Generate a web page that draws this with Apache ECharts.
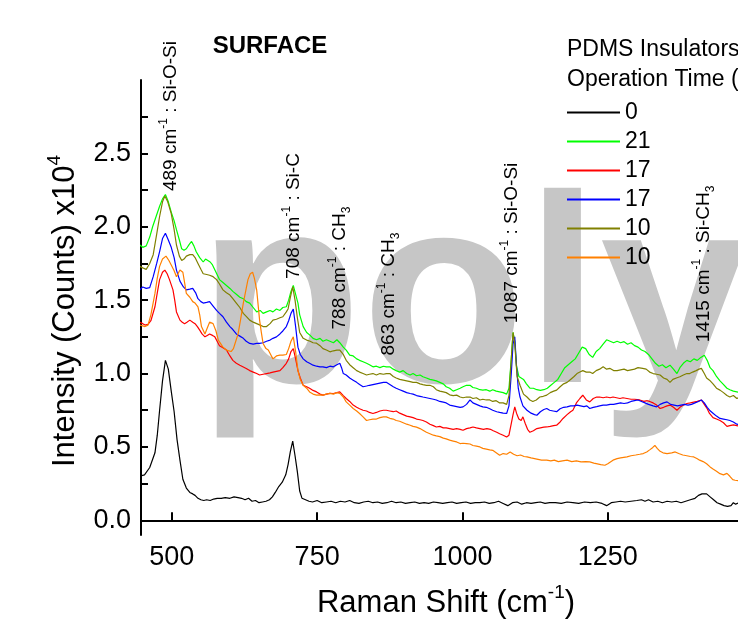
<!DOCTYPE html>
<html>
<head>
<meta charset="utf-8">
<script src="https://cdn.jsdelivr.net/npm/echarts@6/dist/echarts.min.js"></script>
<style>
  html, body { margin: 0; padding: 0; background: #fff; }
  #chart { width: 738px; height: 622px; }
</style>
</head>
<body>
<div id="chart"></div>
<script>
const FONT = '"Liberation Sans", Arial, sans-serif';

// legend labels (operation time) and colours
const seriesLabels = ['0', '21', '17', '17', '10', '10'];
const seriesColors = ['#000000', '#00ff00', '#ff0000', '#0000ff', '#808000', '#ff8000'];

// tick values
const xTicks = [500, 750, 1000, 1250];
const yLabels = [0, 0.5, 1.0, 1.5, 2.0, 2.5];
const yTicks = [0, 0.25, 0.5, 0.75, 1.0, 1.25, 1.5, 1.75, 2.0, 2.25, 2.5, 2.75];

// spectra: [Raman shift, intensity x10^4]
const spec0 = [[445,0.30],[453,0.31],[462,0.36],[471,0.46],[475,0.58],[479,0.75],[484,0.95],[489,1.09],[494,1.03],[499,0.88],[504,0.74],[509,0.55],[514,0.41],[519,0.28],[525,0.22],[531,0.19],[536,0.18],[540,0.17],[545,0.15],[550,0.14],[555,0.135],[560,0.14],[566,0.135],[572,0.145],[578,0.15],[585,0.15],[592,0.155],[600,0.15],[607,0.16],[614,0.155],[620,0.15],[626,0.14],[632,0.15],[638,0.13],[644,0.135],[650,0.12],[656,0.125],[662,0.13],[668,0.14],[673,0.16],[678,0.19],[684,0.23],[690,0.26],[696,0.31],[700,0.38],[704,0.47],[708,0.54],[712,0.44],[716,0.33],[720,0.2],[724,0.15],[730,0.14],[736,0.13],[742,0.125],[750,0.135],[758,0.12],[766,0.125],[774,0.13],[782,0.12],[790,0.13],[798,0.125],[806,0.135],[814,0.12],[822,0.115],[830,0.125],[838,0.13],[846,0.12],[854,0.125],[862,0.115],[870,0.12],[878,0.13],[886,0.12],[894,0.125],[902,0.115],[910,0.12],[918,0.125],[926,0.115],[934,0.12],[942,0.115],[950,0.125],[958,0.12],[966,0.115],[974,0.12],[982,0.125],[990,0.115],[998,0.12],[1006,0.125],[1014,0.115],[1022,0.12],[1030,0.12],[1038,0.125],[1046,0.115],[1054,0.12],[1062,0.13],[1070,0.115],[1078,0.1],[1086,0.12],[1094,0.125],[1102,0.11],[1110,0.12],[1118,0.115],[1126,0.12],[1134,0.125],[1142,0.115],[1150,0.12],[1160,0.12],[1170,0.115],[1180,0.125],[1190,0.12],[1200,0.115],[1210,0.125],[1220,0.12],[1230,0.125],[1240,0.115],[1248,0.10],[1256,0.12],[1264,0.125],[1272,0.13],[1280,0.125],[1290,0.13],[1300,0.135],[1308,0.14],[1314,0.13],[1320,0.14],[1328,0.125],[1336,0.13],[1344,0.12],[1352,0.13],[1360,0.125],[1368,0.13],[1376,0.12],[1384,0.13],[1392,0.14],[1400,0.15],[1406,0.17],[1412,0.18],[1420,0.18],[1426,0.16],[1432,0.14],[1438,0.12],[1444,0.11],[1450,0.10],[1456,0.095],[1462,0.10],[1466,0.12],[1470,0.11],[1476,0.12]];

const spec21 = [[445,1.876],[450,1.86],[456,1.87],[462,1.93],[467,2.0],[473,2.07],[479,2.14],[484,2.19],[489,2.22],[494,2.17],[499,2.10],[504,2.04],[508,1.98],[513,1.91],[517,1.85],[521,1.84],[525,1.85],[530,1.88],[534,1.90],[538,1.87],[542,1.83],[548,1.79],[554,1.76],[558,1.78],[562,1.77],[566,1.76],[570,1.74],[576,1.69],[582,1.64],[588,1.62],[594,1.60],[600,1.58],[605,1.56],[611,1.54],[617,1.52],[623,1.51],[628,1.49],[634,1.48],[640,1.45],[646,1.42],[652,1.43],[657,1.41],[663,1.42],[669,1.43],[674,1.42],[680,1.44],[686,1.43],[691,1.45],[697,1.455],[701,1.50],[705,1.56],[709,1.60],[713,1.54],[717,1.48],[720,1.40],[726,1.32],[732,1.28],[738,1.26],[743,1.24],[749,1.23],[755,1.24],[760,1.22],[766,1.23],[772,1.22],[778,1.21],[784,1.23],[789,1.21],[795,1.18],[800,1.16],[806,1.125],[812,1.12],[818,1.10],[823,1.09],[829,1.08],[835,1.07],[840,1.06],[846,1.046],[852,1.05],[858,1.04],[864,1.05],[869,1.045],[875,1.046],[881,1.03],[886,1.02],[892,1.01],[898,1.02],[904,1.0],[910,0.99],[915,1.0],[921,0.985],[927,0.99],[932,0.978],[938,0.97],[944,0.96],[950,0.955],[955,0.95],[961,0.94],[967,0.93],[972,0.91],[978,0.90],[984,0.88],[990,0.89],[996,0.90],[1001,0.91],[1007,0.92],[1013,0.92],[1018,0.905],[1024,0.90],[1030,0.89],[1035,0.887],[1041,0.89],[1047,0.88],[1052,0.89],[1058,0.88],[1064,0.875],[1070,0.87],[1076,0.86],[1080,0.90],[1084,1.10],[1087,1.28],[1090,1.22],[1093,1.05],[1097,0.98],[1101,0.97],[1105,0.96],[1110,0.93],[1116,0.90],[1122,0.90],[1128,0.89],[1134,0.885],[1140,0.89],[1146,0.90],[1152,0.92],[1158,0.94],[1164,0.96],[1170,1.0],[1176,1.04],[1182,1.06],[1188,1.08],[1194,1.10],[1200,1.14],[1206,1.18],[1212,1.17],[1218,1.13],[1224,1.11],[1230,1.15],[1236,1.17],[1242,1.20],[1248,1.23],[1254,1.22],[1260,1.21],[1266,1.22],[1272,1.21],[1278,1.217],[1284,1.20],[1290,1.21],[1296,1.19],[1302,1.18],[1308,1.16],[1314,1.15],[1320,1.13],[1326,1.10],[1332,1.07],[1338,1.05],[1344,1.06],[1350,1.04],[1357,1.057],[1363,1.03],[1369,1.0],[1374,1.04],[1380,1.07],[1386,1.09],[1392,1.08],[1398,1.10],[1404,1.09],[1410,1.11],[1416,1.125],[1421,1.09],[1426,1.04],[1431,1.02],[1437,0.98],[1443,0.95],[1448,0.93],[1455,0.90],[1460,0.89],[1466,0.88],[1472,0.875],[1478,0.87]];

const spec17a = [[445,1.35],[450,1.34],[454,1.33],[459,1.335],[464,1.36],[471,1.455],[475,1.55],[479,1.64],[484,1.69],[488,1.705],[492,1.68],[496,1.64],[502,1.57],[505,1.50],[508,1.42],[514,1.364],[518,1.35],[522,1.34],[526,1.35],[531,1.364],[536,1.35],[540,1.34],[544,1.32],[548,1.296],[552,1.27],[557,1.25],[561,1.26],[565,1.27],[570,1.26],[574,1.25],[578,1.22],[582,1.19],[588,1.175],[594,1.16],[600,1.12],[605,1.09],[611,1.07],[617,1.057],[623,1.045],[628,1.035],[634,1.02],[640,1.01],[646,1.0],[651,0.99],[657,0.995],[663,1.0],[669,1.005],[674,1.01],[680,1.015],[686,1.02],[691,1.04],[697,1.07],[701,1.10],[705,1.15],[709,1.17],[713,1.10],[717,1.02],[721,0.97],[726,0.92],[732,0.91],[737,0.90],[743,0.885],[749,0.875],[755,0.86],[760,0.853],[766,0.86],[772,0.865],[778,0.864],[784,0.87],[789,0.875],[795,0.85],[800,0.83],[806,0.81],[812,0.785],[818,0.77],[823,0.76],[829,0.75],[835,0.745],[840,0.735],[846,0.728],[852,0.735],[858,0.745],[864,0.75],[869,0.75],[875,0.745],[881,0.74],[886,0.745],[892,0.73],[898,0.72],[904,0.71],[910,0.705],[915,0.70],[921,0.69],[927,0.685],[932,0.68],[938,0.67],[944,0.655],[950,0.645],[955,0.636],[961,0.64],[967,0.63],[972,0.63],[978,0.625],[984,0.62],[990,0.625],[996,0.62],[1001,0.614],[1007,0.625],[1013,0.63],[1018,0.636],[1024,0.63],[1030,0.625],[1036,0.62],[1042,0.625],[1048,0.62],[1053,0.61],[1059,0.60],[1064,0.59],[1070,0.58],[1076,0.568],[1080,0.58],[1083,0.64],[1087,0.72],[1090,0.773],[1093,0.73],[1097,0.69],[1101,0.68],[1104,0.705],[1108,0.66],[1112,0.62],[1116,0.60],[1122,0.61],[1128,0.625],[1134,0.63],[1140,0.635],[1145,0.636],[1151,0.64],[1157,0.645],[1162,0.648],[1168,0.67],[1173,0.694],[1180,0.72],[1186,0.74],[1190,0.75],[1196,0.80],[1202,0.83],[1207,0.853],[1213,0.82],[1219,0.807],[1225,0.83],[1231,0.84],[1236,0.84],[1242,0.835],[1248,0.84],[1254,0.835],[1259,0.84],[1265,0.835],[1271,0.83],[1276,0.835],[1283,0.83],[1290,0.825],[1296,0.825],[1305,0.82],[1312,0.81],[1318,0.815],[1322,0.81],[1328,0.80],[1334,0.785],[1340,0.762],[1346,0.77],[1352,0.78],[1357,0.785],[1363,0.77],[1369,0.75],[1374,0.77],[1380,0.785],[1386,0.796],[1392,0.80],[1398,0.805],[1404,0.81],[1411,0.82],[1416,0.79],[1421,0.76],[1425,0.728],[1431,0.70],[1437,0.69],[1443,0.68],[1449,0.665],[1455,0.64],[1460,0.645],[1466,0.65],[1472,0.645],[1478,0.64]];

const spec17b = [[445,1.57],[450,1.59],[456,1.58],[462,1.585],[468,1.66],[474,1.75],[479,1.83],[484,1.92],[489,1.956],[494,1.91],[499,1.86],[504,1.79],[508,1.705],[514,1.63],[520,1.59],[525,1.57],[531,1.575],[536,1.58],[541,1.55],[545,1.51],[550,1.49],[554,1.48],[560,1.485],[565,1.49],[571,1.46],[577,1.43],[582,1.41],[588,1.387],[594,1.35],[600,1.32],[605,1.30],[611,1.27],[617,1.255],[623,1.24],[628,1.22],[634,1.205],[640,1.20],[646,1.205],[651,1.205],[657,1.21],[663,1.22],[669,1.228],[674,1.24],[680,1.25],[686,1.27],[691,1.29],[697,1.32],[701,1.36],[705,1.41],[709,1.44],[713,1.32],[717,1.18],[721,1.13],[726,1.10],[732,1.08],[737,1.07],[743,1.057],[749,1.05],[755,1.045],[760,1.046],[766,1.04],[772,1.05],[778,1.046],[784,1.06],[789,1.07],[792,1.04],[795,1.0],[800,0.99],[806,0.97],[812,0.955],[818,0.94],[823,0.925],[829,0.91],[835,0.915],[840,0.92],[846,0.925],[852,0.93],[858,0.935],[864,0.94],[869,0.94],[875,0.925],[881,0.91],[886,0.90],[892,0.89],[898,0.88],[904,0.87],[910,0.864],[915,0.86],[921,0.85],[927,0.845],[932,0.84],[938,0.835],[944,0.83],[950,0.825],[955,0.82],[961,0.81],[967,0.805],[972,0.80],[978,0.785],[984,0.78],[990,0.775],[996,0.77],[1001,0.773],[1007,0.79],[1013,0.82],[1018,0.80],[1024,0.79],[1030,0.78],[1035,0.773],[1041,0.77],[1047,0.76],[1052,0.75],[1059,0.74],[1064,0.735],[1070,0.73],[1076,0.728],[1080,0.78],[1084,1.0],[1087,1.20],[1090,1.25],[1093,1.05],[1096,0.90],[1099,0.84],[1104,0.78],[1111,0.75],[1118,0.73],[1124,0.72],[1128,0.716],[1134,0.74],[1140,0.755],[1145,0.762],[1150,0.75],[1156,0.745],[1162,0.74],[1168,0.76],[1174,0.77],[1180,0.773],[1186,0.78],[1192,0.78],[1197,0.785],[1203,0.78],[1209,0.775],[1214,0.78],[1219,0.762],[1225,0.77],[1231,0.775],[1236,0.78],[1242,0.785],[1248,0.785],[1254,0.79],[1260,0.79],[1266,0.795],[1272,0.80],[1278,0.796],[1284,0.80],[1290,0.81],[1296,0.815],[1302,0.82],[1308,0.81],[1314,0.80],[1320,0.79],[1328,0.78],[1334,0.773],[1340,0.79],[1346,0.80],[1352,0.807],[1358,0.79],[1364,0.785],[1370,0.78],[1376,0.785],[1382,0.79],[1388,0.785],[1394,0.79],[1400,0.80],[1406,0.81],[1411,0.82],[1416,0.80],[1421,0.77],[1425,0.75],[1431,0.73],[1437,0.71],[1443,0.694],[1449,0.69],[1455,0.685],[1460,0.68],[1466,0.67],[1472,0.655],[1478,0.65]];

const spec10a = [[445,1.73],[450,1.72],[456,1.71],[462,1.75],[468,1.81],[474,1.95],[479,2.07],[484,2.17],[488,2.21],[493,2.17],[499,2.09],[504,1.98],[508,1.876],[513,1.80],[517,1.77],[521,1.78],[525,1.80],[531,1.81],[536,1.81],[540,1.79],[545,1.75],[550,1.71],[554,1.68],[560,1.675],[565,1.67],[571,1.66],[577,1.64],[582,1.61],[588,1.57],[594,1.55],[600,1.535],[605,1.51],[611,1.48],[617,1.45],[623,1.41],[628,1.39],[634,1.364],[640,1.35],[646,1.34],[652,1.33],[657,1.32],[663,1.32],[669,1.34],[674,1.364],[680,1.37],[686,1.38],[691,1.387],[697,1.42],[700,1.44],[704,1.52],[708,1.59],[712,1.50],[716,1.38],[720,1.28],[726,1.24],[732,1.228],[738,1.22],[743,1.21],[749,1.207],[755,1.19],[760,1.17],[766,1.16],[772,1.148],[778,1.155],[784,1.16],[789,1.16],[795,1.13],[800,1.09],[806,1.06],[812,1.04],[818,1.02],[823,1.01],[829,1.0],[835,0.99],[840,0.995],[846,1.0],[852,0.99],[858,1.0],[864,0.995],[869,1.0],[875,1.0],[881,0.98],[886,0.97],[892,0.96],[898,0.955],[904,0.95],[910,0.945],[915,0.94],[921,0.94],[927,0.93],[932,0.925],[938,0.92],[944,0.92],[950,0.91],[955,0.89],[961,0.88],[967,0.875],[972,0.87],[978,0.855],[984,0.85],[990,0.853],[996,0.84],[1001,0.835],[1007,0.84],[1013,0.84],[1018,0.83],[1024,0.835],[1030,0.82],[1035,0.825],[1041,0.82],[1047,0.82],[1052,0.81],[1058,0.815],[1064,0.80],[1070,0.80],[1076,0.79],[1080,0.85],[1084,1.10],[1087,1.28],[1090,1.20],[1094,0.98],[1099,0.92],[1105,0.86],[1111,0.84],[1116,0.82],[1121,0.81],[1127,0.82],[1133,0.84],[1139,0.845],[1145,0.853],[1151,0.87],[1157,0.88],[1162,0.887],[1168,0.91],[1174,0.93],[1180,0.94],[1186,0.96],[1192,0.98],[1197,1.0],[1202,1.01],[1207,1.02],[1213,1.01],[1219,1.01],[1224,1.0],[1230,1.02],[1236,1.03],[1242,1.046],[1248,1.03],[1254,1.035],[1260,1.02],[1266,1.02],[1272,1.025],[1278,1.03],[1284,1.02],[1290,1.025],[1296,1.03],[1302,1.04],[1310,1.035],[1316,1.03],[1322,1.01],[1328,1.0],[1334,0.995],[1340,0.99],[1346,0.97],[1352,0.96],[1357,0.94],[1362,0.96],[1368,0.97],[1374,0.978],[1380,0.99],[1386,1.0],[1391,1.0],[1396,1.01],[1402,1.02],[1407,1.03],[1411,1.035],[1416,1.0],[1420,0.97],[1425,0.955],[1431,0.93],[1437,0.90],[1443,0.887],[1449,0.87],[1455,0.85],[1460,0.84],[1466,0.85],[1472,0.83],[1478,0.84]];

const spec10b = [[445,1.33],[450,1.325],[454,1.32],[459,1.33],[464,1.40],[471,1.546],[475,1.65],[479,1.73],[484,1.78],[490,1.80],[495,1.77],[499,1.74],[504,1.70],[508,1.66],[514,1.705],[519,1.69],[522,1.62],[525,1.546],[531,1.52],[536,1.49],[540,1.48],[545,1.455],[548,1.40],[551,1.32],[557,1.27],[561,1.31],[565,1.35],[571,1.34],[576,1.29],[580,1.228],[588,1.18],[594,1.16],[597,1.148],[602,1.15],[606,1.17],[610,1.22],[614,1.27],[618,1.36],[623,1.48],[628,1.58],[631,1.64],[635,1.68],[639,1.69],[642,1.65],[646,1.57],[651,1.364],[654,1.28],[657,1.205],[662,1.17],[666,1.16],[670,1.13],[674,1.10],[680,1.12],[686,1.125],[691,1.125],[697,1.13],[701,1.17],[705,1.22],[709,1.25],[713,1.15],[717,1.02],[721,0.96],[726,0.92],[732,0.90],[737,0.875],[743,0.86],[749,0.853],[755,0.855],[760,0.853],[766,0.86],[772,0.865],[778,0.86],[784,0.87],[789,0.865],[795,0.84],[800,0.807],[806,0.785],[812,0.762],[818,0.745],[823,0.728],[829,0.705],[835,0.68],[840,0.685],[846,0.69],[852,0.69],[858,0.70],[864,0.705],[869,0.705],[875,0.695],[881,0.69],[886,0.68],[892,0.675],[898,0.665],[904,0.655],[910,0.648],[915,0.64],[921,0.635],[927,0.625],[932,0.614],[938,0.60],[944,0.59],[950,0.58],[955,0.575],[961,0.57],[967,0.56],[972,0.555],[978,0.546],[984,0.54],[990,0.534],[996,0.523],[1001,0.525],[1007,0.523],[1013,0.52],[1018,0.51],[1024,0.505],[1030,0.50],[1035,0.49],[1041,0.485],[1047,0.48],[1052,0.477],[1058,0.46],[1064,0.443],[1070,0.455],[1076,0.45],[1082,0.466],[1088,0.45],[1094,0.44],[1100,0.445],[1106,0.435],[1111,0.432],[1118,0.425],[1124,0.42],[1130,0.415],[1136,0.41],[1145,0.41],[1152,0.405],[1158,0.41],[1165,0.40],[1172,0.405],[1180,0.41],[1188,0.40],[1196,0.405],[1204,0.398],[1212,0.40],[1219,0.398],[1226,0.39],[1232,0.385],[1238,0.38],[1245,0.375],[1250,0.385],[1259,0.41],[1266,0.42],[1272,0.425],[1283,0.432],[1290,0.44],[1298,0.445],[1305,0.45],[1311,0.455],[1317,0.466],[1322,0.48],[1327,0.495],[1331,0.51],[1335,0.49],[1340,0.47],[1345,0.46],[1352,0.455],[1360,0.46],[1366,0.466],[1372,0.455],[1379,0.445],[1386,0.44],[1392,0.435],[1398,0.432],[1404,0.42],[1408,0.41],[1414,0.40],[1420,0.385],[1426,0.364],[1431,0.35],[1437,0.335],[1443,0.318],[1449,0.31],[1455,0.32],[1460,0.30],[1465,0.277],[1469,0.273],[1475,0.27]];

const allSpectra = [spec0, spec21, spec17a, spec17b, spec10a, spec10b];

// rich text styles for rotated peak labels
const peakRich = {
  a: { fontSize: 19, fontFamily: FONT, color: '#000', lineHeight: 26 },
  s: { fontSize: 12, fontFamily: FONT, color: '#000', verticalAlign: 'top', lineHeight: 12 },
  b: { fontSize: 12, fontFamily: FONT, color: '#000', verticalAlign: 'bottom', lineHeight: 12 }
};

function peakLabel(text, x, y) {
  return {
    type: 'text',
    x: x,
    y: y,
    rotation: Math.PI / 2,
    z: 20,
    style: { text: text, rich: peakRich, align: 'center', verticalAlign: 'middle' }
  };
}

const titleRich = {
  a: { fontSize: 31, fontFamily: FONT, color: '#000', lineHeight: 40 },
  s: { fontSize: 19, fontFamily: FONT, color: '#000', verticalAlign: 'top', lineHeight: 18 }
};

const chart = echarts.init(document.getElementById('chart'), null, { renderer: 'canvas' });

const option = {
  animation: false,
  backgroundColor: '#fff',
  grid: { left: 141, right: 0, top: 80, bottom: 87 },
  xAxis: {
    type: 'value',
    min: 447,
    max: 1474,
    axisLine: { show: true, lineStyle: { color: '#000', width: 2 } },
    axisTick: { show: true, inside: true, length: 8, lineStyle: { color: '#000', width: 2 }, customValues: xTicks },
    axisLabel: {
      customValues: xTicks, color: '#000', fontSize: 27, fontFamily: FONT, margin: 9,
      formatter: function (v) { return String(v); }
    },
    splitLine: { show: false }
  },
  yAxis: {
    type: 'value',
    min: -0.1,
    max: 3.0,
    axisLine: { show: true, lineStyle: { color: '#000', width: 2 } },
    axisTick: { show: true, inside: true, length: 7, lineStyle: { color: '#000', width: 2 }, customValues: yTicks },
    axisLabel: {
      customValues: yLabels, color: '#000', fontSize: 27, fontFamily: FONT, margin: 10,
      formatter: function (v) { return v.toFixed(1); }
    },
    splitLine: { show: false }
  },
  legend: {
    orient: 'vertical',
    left: 562,
    top: 96,
    itemWidth: 53,
    itemHeight: 14,
    itemGap: 6,
    icon: 'path://M0,6 L53,6 L53,7.8 L0,7.8 Z',
    formatter: function (name) { return seriesLabels[Number(name.slice(1))]; },
    textStyle: { color: '#000', fontSize: 23, fontFamily: FONT },
    data: allSpectra.map(function (d, i) { return 's' + i; })
  },
  series: allSpectra.map(function (d, i) {
    return {
      name: 's' + i,
      type: 'line',
      data: d,
      showSymbol: false,
      symbol: 'none',
      z: 5 + i,
      lineStyle: { color: seriesColors[i], width: 1.2 },
      itemStyle: { color: seriesColors[i] }
    };
  }),
  graphic: [
    {
      type: 'text', x: 198, y: 308, z: -10, silent: true,
      style: {
        text: 'poly', fill: '#c6c6c6', font: 'bold 268px ' + FONT,
        verticalAlign: 'middle', shadowBlur: 24, shadowColor: '#cacaca'
      }
    },
    {
      type: 'text', x: 270, y: 46, z: 20,
      style: { text: 'SURFACE', fill: '#000', font: 'bold 24px ' + FONT, align: 'center', verticalAlign: 'middle' }
    },
    {
      type: 'text', x: 567, y: 50, z: 20,
      style: { text: 'PDMS Insulators', fill: '#000', font: '23px ' + FONT, verticalAlign: 'middle' }
    },
    {
      type: 'text', x: 567, y: 80, z: 20,
      style: { text: 'Operation Time (year)', fill: '#000', font: '23px ' + FONT, verticalAlign: 'middle' }
    },
    {
      type: 'text', x: 446, y: 603, z: 20,
      style: { text: '{a|Raman Shift (cm}{s|-1}{a|)}', align: 'center', verticalAlign: 'middle', rich: titleRich }
    },
    {
      type: 'text', x: 65, y: 311, z: 20, rotation: Math.PI / 2,
      style: { text: '{a|Intensity (Counts) x10}{s|4}', align: 'center', verticalAlign: 'middle', rich: titleRich }
    },
    peakLabel('{a|489 cm}{s|-1}{a| : Si-O-Si}', 171, 116),
    peakLabel('{a|708 cm}{s|-1}{a| : Si-C}', 294, 216),
    peakLabel('{a|788 cm}{s|-1}{a| : CH}{b|3}', 340, 268),
    peakLabel('{a|863 cm}{s|-1}{a| : CH}{b|3}', 389, 294),
    peakLabel('{a|1087 cm}{s|-1}{a| : Si-O-Si}', 512, 243),
    peakLabel('{a|1415 cm}{s|-1}{a| : Si-CH}{b|3}', 704, 264)
  ]
};

chart.setOption(option);
</script>
</body>
</html>
